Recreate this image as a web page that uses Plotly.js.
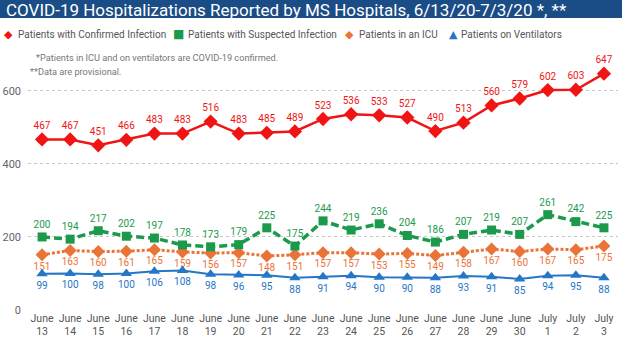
<!DOCTYPE html>
<html>
<head>
<meta charset="utf-8">
<script src="https://cdn.plot.ly/plotly-3.0.1.min.js"></script>
<style>html,body{margin:0;padding:0;background:#fff}#chart{width:622px;height:352px}</style>
</head>
<body>
<div id="chart"></div>
<script>
const dates = ["June<br>13","June<br>14","June<br>15","June<br>16","June<br>17","June<br>18","June<br>19","June<br>20","June<br>21","June<br>22","June<br>23","June<br>24","June<br>25","June<br>26","June<br>27","June<br>28","June<br>29","June<br>30","July<br>1","July<br>2","July<br>3"];
const confirmed = [467,467,451,466,483,483,516,483,485,489,523,536,533,527,490,513,560,579,602,603,647];
const suspected = [200,194,217,202,197,178,173,179,225,175,244,219,236,204,186,207,219,207,261,242,225];
const icu = [151,163,160,161,165,159,156,157,148,151,157,157,153,155,149,158,167,160,167,165,175];
const ventilators = [99,100,98,100,106,108,98,96,95,88,91,94,90,90,88,93,91,85,94,95,88];
const seriesNames = ["Patients with Confirmed Infection","Patients with Suspected Infection","Patients in an ICU","Patients on Ventilators"];
const legendGlyphs = ["\u25C6","\u25A0","\u25C6","\u25B2"];
const chartTitle = "COVID-19 Hospitalizations Reported by MS Hospitals, 6/13/20-7/3/20 *, **";
const notes = ["*Patients in ICU and on ventilators are COVID-19 confirmed.","**Data are provisional."];

const FONT = "Roboto, 'Noto Sans', sans-serif";
const RED = "#f01414", GREEN = "#1a9a4a", ORANGE = "#ea7438", BLUE = "#2676c8";
const colors = [RED, GREEN, ORANGE, BLUE];

const W = 622, H = 352, L = 28, R = 4, T = 62, B = 41.5;
const pw = W - L - R, ph = H - T - B;
const px = v => (v - L) / pw;         // pixel x -> paper
const py = v => (H - B - v) / ph;     // pixel y -> paper

function series(y, name, color, lineOpt, sym, msize, tpos) {
  return {
    x: dates, y: y, name: name, type: "scatter", mode: "lines+markers+text",
    line: Object.assign({color: color}, lineOpt),
    marker: {color: color, symbol: sym, size: msize},
    text: y.map(String), textposition: tpos,
    textfont: {family: FONT, size: 10, color: color},
    showlegend: false, hoverinfo: "x+y", cliponaxis: false
  };
}

const traces = [
  series(icu, seriesNames[2], ORANGE, {width: 3, dash: "3px,2px"}, "diamond", 10, "bottom center"),
  series(ventilators, seriesNames[3], BLUE, {width: 2}, "triangle-up", 10, "bottom center"),
  series(suspected, seriesNames[1], GREEN, {width: 3.5, dash: "8px,4px"}, "square", 9, "top center"),
  series(confirmed, seriesNames[0], RED, {width: 2.5}, "diamond", 11, "top center")
];

// legend drawn as text items placed like the reference
const legendGlyphX = [8, 178, 350, 453];
const legendTextX = [15.5, 186, 357, 459];
const legendAnns = [];
seriesNames.forEach((n, i) => {
  legendAnns.push({text: legendGlyphs[i], xref: "paper", yref: "paper", x: px(legendGlyphX[i]), y: py(34),
    xanchor: "center", yanchor: "middle", showarrow: false,
    font: {family: "DejaVu Sans, sans-serif", size: i === 1 ? 12 : 11, color: colors[i]}});
  legendAnns.push({text: n, xref: "paper", yref: "paper", x: px(legendTextX[i]), y: py(34.5),
    xanchor: "left", yanchor: "middle", showarrow: false,
    font: {family: FONT, size: 10, color: "#555"}});
});

const layout = {
  width: W, height: H,
  margin: {l: L, r: R, t: T, b: B, pad: 0},
  paper_bgcolor: "#fff", plot_bgcolor: "#fff",
  font: {family: FONT, color: "#555"},
  showlegend: false,
  xaxis: {type: "category", range: [-0.5, dates.length - 0.5], showgrid: false, zeroline: false,
          showline: false, ticks: "", tickfont: {family: FONT, size: 10.5, color: "#555"}, fixedrange: true},
  yaxis: {range: [0, 679], tickvals: [0, 200, 400, 600], showgrid: true, gridcolor: "#c8c8c8",
          griddash: "dot", gridwidth: 1, zeroline: false, showline: false, ticks: "",
          tickfont: {family: FONT, size: 11, color: "#666"}, ticklabelstandoff: 6, fixedrange: true},
  shapes: [{type: "rect", xref: "paper", yref: "paper", x0: px(0), x1: px(W), y0: py(18), y1: py(0),
            fillcolor: "#1a4c86", line: {width: 0}, layer: "below"}],
  annotations: [
    {text: chartTitle, xref: "paper", yref: "paper", x: px(4), y: py(9.5), xanchor: "left", yanchor: "middle",
     showarrow: false, font: {family: FONT, size: 17, color: "#fff"}},
    {text: notes[0], xref: "paper", yref: "paper", x: px(34), y: py(57), xanchor: "left", yanchor: "middle",
     showarrow: false, font: {family: FONT, size: 9.2, color: "#777"}},
    {text: notes[1], xref: "paper", yref: "paper", x: px(28), y: py(71.5), xanchor: "left", yanchor: "middle",
     showarrow: false, font: {family: FONT, size: 9.2, color: "#777"}}
  ].concat(legendAnns)
};

Plotly.newPlot("chart", traces, layout, {displayModeBar: false, staticPlot: true});
</script>
</body>
</html>
